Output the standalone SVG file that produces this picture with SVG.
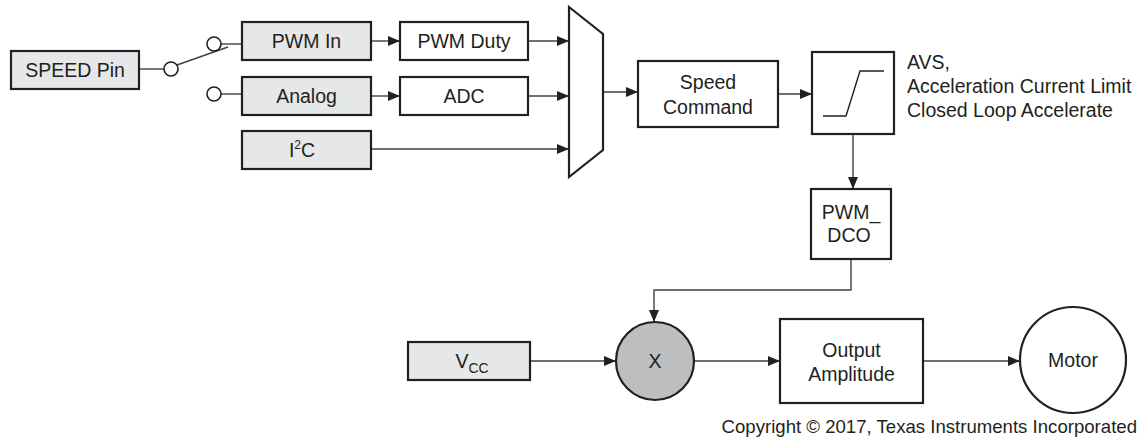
<svg xmlns="http://www.w3.org/2000/svg" width="1143" height="441" viewBox="0 0 1143 441">
<style>
text{font-family:"Liberation Sans",Arial,sans-serif;font-size:19.5px;fill:#231f20}
text.cr{font-size:18.6px}
.g{fill:#e6e7e8;stroke:#231f20;stroke-width:2.2}
.w{fill:#fff;stroke:#231f20;stroke-width:2.2}
.c{fill:none;stroke:#404040;stroke-width:1.4}
.a{marker-end:url(#ar)}
.sw{fill:#fff;stroke:#231f20;stroke-width:1.6}
</style>
<defs>
<marker id="ar" markerUnits="userSpaceOnUse" markerWidth="13" markerHeight="11" refX="12" refY="5" orient="auto">
<path d="M0,0 L12,5 L0,10 z" fill="#231f20"/>
</marker>
</defs>
<rect width="1143" height="441" fill="#fff"/>
<g id="connectors">
<line class="c" x1="139" y1="69" x2="164" y2="69"/>
<line class="c" x1="177" y1="65" x2="228" y2="47" stroke-width="1.6"/>
<line class="c" x1="221" y1="44" x2="242" y2="44"/>
<line class="c" x1="221" y1="94" x2="242" y2="94"/>
<line class="c a" x1="371" y1="41" x2="400" y2="41"/>
<line class="c a" x1="371" y1="96" x2="400" y2="96"/>
<line class="c a" x1="528" y1="41" x2="569" y2="41"/>
<line class="c a" x1="528" y1="96" x2="569" y2="96"/>
<line class="c a" x1="371" y1="149" x2="569" y2="149"/>
<line class="c a" x1="604" y1="92" x2="638" y2="92"/>
<line class="c a" x1="778" y1="94" x2="812" y2="94"/>
<line class="c a" x1="853" y1="134" x2="853" y2="189"/>
<polyline class="c a" points="851,259 851,290 654,290 654,322"/>
<line class="c a" x1="530" y1="361" x2="616" y2="361"/>
<line class="c a" x1="694" y1="361" x2="780" y2="361"/>
<line class="c a" x1="923" y1="361" x2="1020" y2="361"/>
<circle class="sw" cx="171" cy="69" r="7"/>
<circle class="sw" cx="214" cy="44" r="7"/>
<circle class="sw" cx="214" cy="94" r="7"/>
</g>
<g id="speed-pin"><rect class="g" x="11" y="51" width="128" height="38"/><text x="75" y="77" text-anchor="middle">SPEED Pin</text></g>
<g id="pwm-in"><rect class="g" x="242" y="22" width="129" height="38"/><text x="306.5" y="48" text-anchor="middle">PWM In</text></g>
<g id="analog"><rect class="g" x="242" y="77" width="129" height="38"/><text x="306.5" y="103" text-anchor="middle">Analog</text></g>
<g id="i2c"><rect class="g" x="242" y="131" width="129" height="38"/><text x="302" y="157" text-anchor="middle">I<tspan font-size="12" dy="-8">2</tspan><tspan dy="8">C</tspan></text></g>
<g id="pwm-duty"><rect class="w" x="400" y="22" width="128" height="38"/><text x="464" y="48" text-anchor="middle">PWM Duty</text></g>
<g id="adc"><rect class="w" x="400" y="77" width="128" height="38"/><text x="464" y="103" text-anchor="middle">ADC</text></g>
<g id="mux"><polygon class="w" points="569,7 603,34 603,150 569,177"/></g>
<g id="speed-command"><rect class="w" x="638" y="61" width="140" height="66"/><text x="708" y="89" text-anchor="middle">Speed</text><text x="708" y="114" text-anchor="middle">Command</text></g>
<g id="ramp"><rect class="w" x="812" y="52" width="82" height="82"/><polyline points="823,116 846,116 860,71 884,71" fill="none" stroke="#231f20" stroke-width="1.4"/></g>
<g id="ramp-label"><text x="907" y="69">AVS,</text><text x="907" y="93">Acceleration Current Limit</text><text x="907" y="117">Closed Loop Accelerate</text></g>
<g id="pwm-dco"><rect class="w" x="811" y="189" width="80" height="70"/><text x="851" y="219" text-anchor="middle">PWM_</text><text x="849" y="242" text-anchor="middle">DCO</text></g>
<g id="vcc"><rect class="g" x="408" y="342" width="122" height="38"/><text x="472" y="368" text-anchor="middle">V<tspan font-size="14" dy="5">CC</tspan></text></g>
<g id="multiplier"><circle cx="655" cy="361" r="39" fill="#bcbec0" stroke="#231f20" stroke-width="2.2"/><text x="655" y="368" text-anchor="middle">X</text></g>
<g id="output-amplitude"><rect class="w" x="780" y="319" width="143" height="84"/><text x="851.5" y="357" text-anchor="middle">Output</text><text x="851.5" y="381" text-anchor="middle">Amplitude</text></g>
<g id="motor"><circle cx="1073" cy="360" r="53" fill="#fff" stroke="#231f20" stroke-width="2.2"/><text x="1073" y="367" text-anchor="middle">Motor</text></g>
<text class="cr" x="1137" y="433" text-anchor="end">Copyright © 2017, Texas Instruments Incorporated</text>
</svg>
